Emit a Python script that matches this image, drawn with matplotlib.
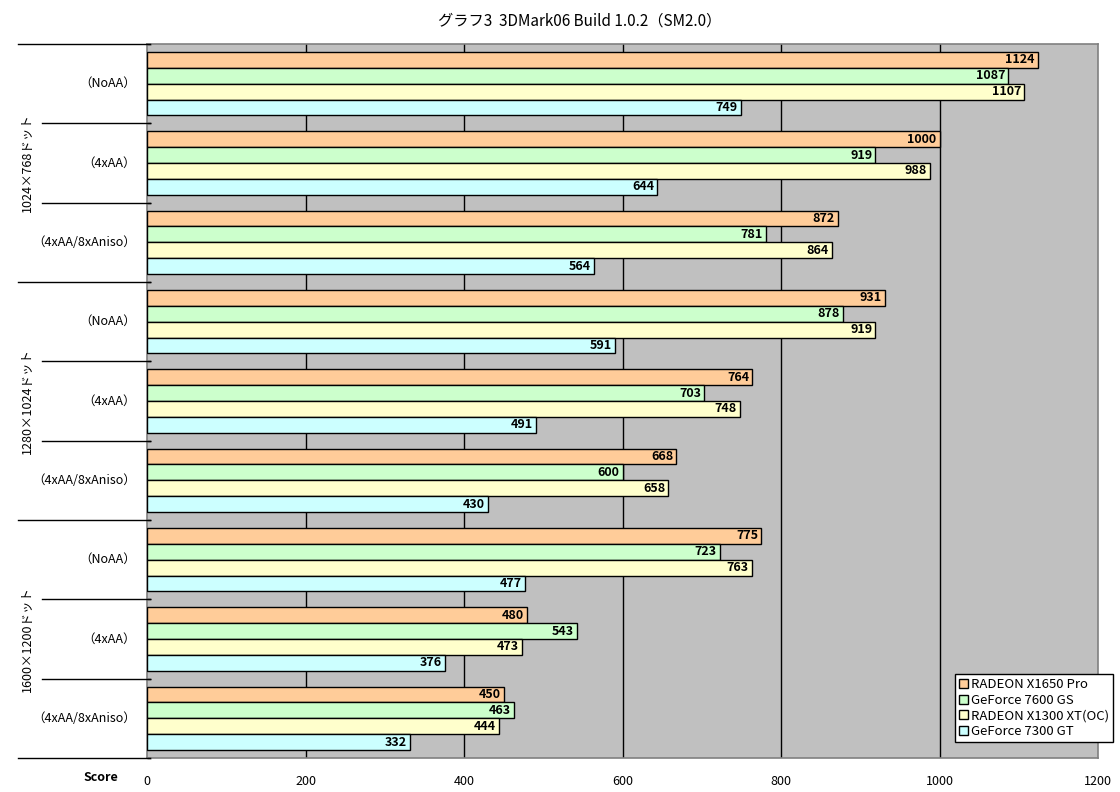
import numpy as np
import matplotlib
matplotlib.use('Agg')
from matplotlib import pyplot as plt
import matplotlib.transforms as mtransforms

plt.rcParams['font.family'] = ['Noto Sans CJK JP', 'DejaVu Sans']

# データ
resolutions = ['1024×768ドット', '1280×1024ドット', '1600×1200ドット']
settings = ['（NoAA）', '（4xAA）', '（4xAA/8xAniso）']
cards = ['RADEON X1650 Pro', 'GeForce 7600 GS', 'RADEON X1300 XT(OC)', 'GeForce 7300 GT']
colors = ['#FFCC99', '#CCFFCC', '#FFFFCC', '#CCFFFF']

x1650 = [1124, 1000, 872, 931, 764, 668, 775, 480, 450]
gf7600 = [1087, 919, 781, 878, 703, 600, 723, 543, 463]
x1300 = [1107, 988, 864, 919, 748, 658, 763, 473, 444]
gf7300 = [749, 644, 564, 591, 491, 430, 477, 376, 332]
series = [x1650, gf7600, x1300, gf7300]

fig = plt.figure(figsize=(11.2, 7.92), dpi=100)
ax = fig.add_axes([147 / 1120, 1 - 758 / 792, 951 / 1120, 714 / 792])
ax.set_facecolor('#C0C0C0')

n = len(x1650)
bh = 0.2
for k, vals in enumerate(series):
    ys = np.arange(n) + 0.1 + bh * k + bh / 2
    ax.barh(ys, vals, height=bh, color=colors[k], edgecolor='black', linewidth=1,
            label=cards[k], zorder=3)
    for y, v in zip(ys, vals):
        ax.text(v - 4, y, str(v), ha='right', va='center', fontsize=9,
                fontweight='bold', zorder=4)

ax.set_xlim(0, 1200)
ax.set_ylim(n, 0)
ax.set_xticks(range(0, 1201, 200))
ax.tick_params(axis='x', length=0, labelsize=9, pad=12)
ax.set_yticks(range(n + 1))
ax.set_yticklabels([])
ax.tick_params(axis='y', direction='in', length=3, width=1)
for xv in range(200, 1200, 200):
    ax.axvline(xv, color='black', linewidth=1, zorder=1)
for sp in ax.spines.values():
    sp.set_color('#808080')
    sp.set_linewidth(1.2)

# 左側のラベルと区切り線
trans = mtransforms.blended_transform_factory(ax.transAxes, ax.transData)
for i in range(n + 1):
    x0 = -0.1356 if i % 3 == 0 else -0.1104
    ax.plot([x0, 0.003], [i, i], color='black', linewidth=1, transform=trans,
            clip_on=False, zorder=5)
for i in range(n):
    ax.text(-0.012, i + 0.5, settings[i % 3], transform=trans, ha='right',
            va='center', fontsize=9)
for j, r in enumerate(resolutions):
    ax.text(-0.126, 3 * j + 1.5, r, transform=trans, ha='center', va='center',
            rotation=90, fontsize=9)

ax.text(-0.03, -0.028, 'Score', transform=ax.transAxes, ha='right', va='center',
        fontsize=9, fontweight='bold')

fig.text(580 / 1120, 1 - 21 / 792, 'グラフ3  3DMark06 Build 1.0.2（SM2.0）',
         ha='center', va='center', fontsize=11)

leg = fig.legend(loc='lower left', bbox_to_anchor=(955 / 1120, 1 - 742 / 792),
                 fontsize=9.5, fancybox=False, edgecolor='black', framealpha=1,
                 handlelength=0.7, handleheight=0.7, handletextpad=0.2,
                 labelspacing=0.2, borderpad=0.3, borderaxespad=0)
leg.get_frame().set_linewidth(1)

plt.savefig('out.png', dpi=100)
